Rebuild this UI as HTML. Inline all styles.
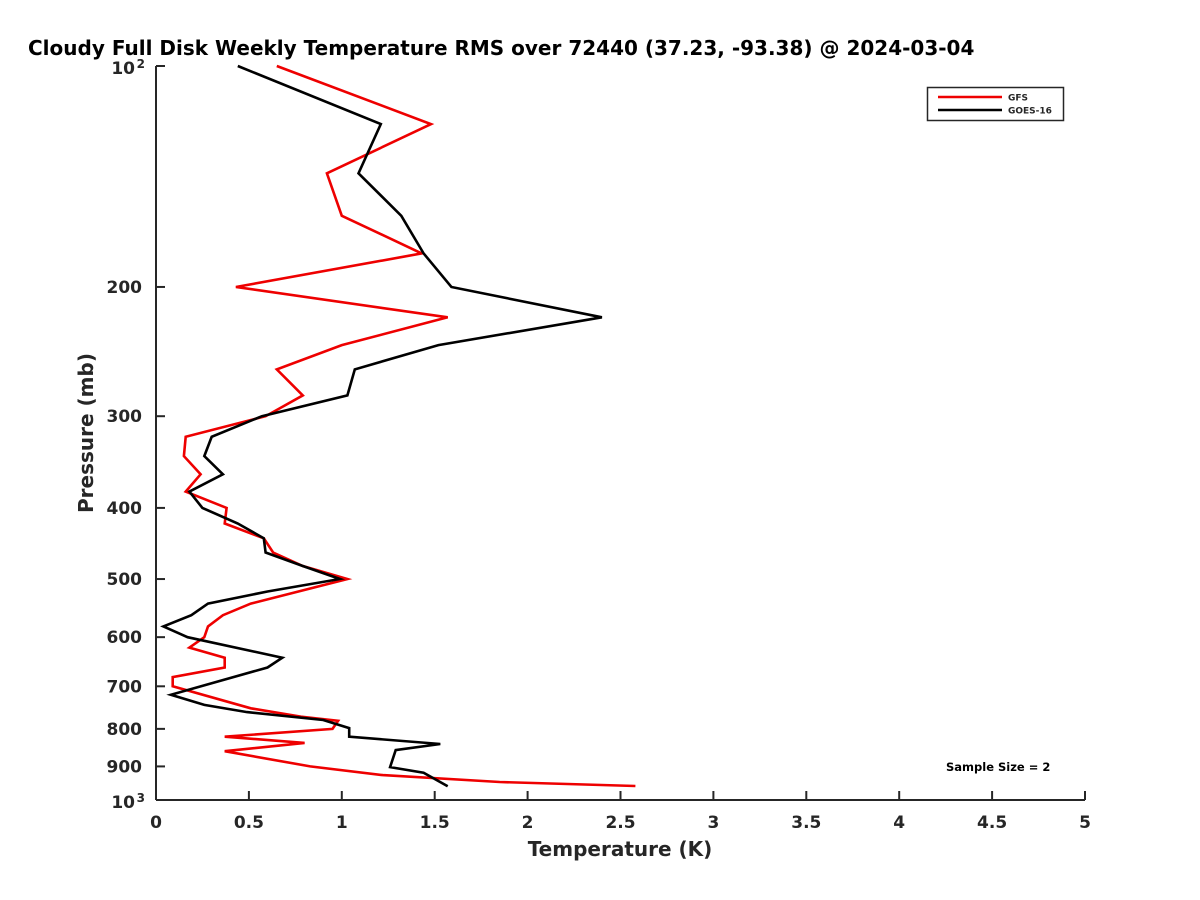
<!DOCTYPE html>
<html><head><meta charset="utf-8"><style>
html,body{margin:0;padding:0;background:#fff;width:1200px;height:900px;overflow:hidden}
text{font-family:"DejaVu Sans","Liberation Sans",sans-serif;font-weight:bold;fill:#262626}
</style></head><body>
<svg id="chart" width="1200" height="900" xmlns="http://www.w3.org/2000/svg">
<text x="28" y="55" font-size="20" style="fill:#000">Cloudy Full Disk Weekly Temperature RMS over 72440 (37.23, -93.38) @ 2024-03-04</text>
<g id="axes"></g>
<g id="series"></g>
<text transform="translate(93,433) rotate(-90)" text-anchor="middle" font-size="20">Pressure (mb)</text>
<text x="620" y="856" text-anchor="middle" font-size="20">Temperature (K)</text>
<g>
<rect x="927.5" y="87.5" width="136" height="33" fill="#fff" stroke="#262626" stroke-width="1.5"/>
<g><line x1="938" y1="97" x2="1002" y2="97" stroke="#e00" stroke-width="2.5"/><text x="1008" y="100.5" font-size="9">GFS</text></g>
<g><line x1="938" y1="110" x2="1002" y2="110" stroke="#000" stroke-width="2.5"/><text x="1008" y="113.5" font-size="9">GOES-16</text></g>
</g>
<text x="946" y="771" font-size="11.5" style="fill:#000">Sample Size = 2</text>
</svg>
<script>
const xTicks=[0,0.5,1,1.5,2,2.5,3,3.5,4,4.5,5];
const xTickLabels=["0","0.5","1","1.5","2","2.5","3","3.5","4","4.5","5"];
const yTicks=[100,200,300,400,500,600,700,800,900,1000];
const yTickLabels=["10^2","200","300","400","500","600","700","800","900","10^3"];
const gfsPressure=[100,120,140,160,180,200,220,240,259,281,300,320,340,360,380,400,420,440,460,480,500,540,560,580,600,620,640,660,680,700,750,770,780,800,820,836,858,900,925,945,957];
const gfsTemp=[0.65,1.48,0.92,1.0,1.43,0.43,1.57,1.0,0.65,0.79,0.59,0.16,0.15,0.24,0.16,0.38,0.37,0.58,0.63,0.79,1.03,0.51,0.36,0.28,0.26,0.18,0.37,0.37,0.09,0.09,0.51,0.78,0.98,0.95,0.37,0.8,0.37,0.83,1.22,1.85,2.58];
const goesPressure=[100,120,140,160,180,200,220,240,259,281,300,320,340,360,380,400,420,440,460,480,500,520,540,560,580,600,640,660,719,742,759,778,798,820,839,855,902,918,958];
const goesTemp=[0.44,1.21,1.09,1.32,1.44,1.59,2.40,1.52,1.07,1.03,0.57,0.30,0.26,0.36,0.18,0.25,0.44,0.58,0.59,0.79,0.99,0.60,0.28,0.19,0.04,0.17,0.68,0.60,0.08,0.26,0.49,0.90,1.04,1.04,1.53,1.29,1.26,1.44,1.57];
const X0=156,X1=1085,Y0=66,Y1=800;
const xs=t=>X0+(t-0)/(5-0)*(X1-X0);
const ys=p=>Y0+Math.log10(p/100)*(Y1-Y0);
const NS="http://www.w3.org/2000/svg";
const axes=document.getElementById('axes');
const series=document.getElementById('series');
function mk(tag,attrs,parent){const e=document.createElementNS(NS,tag);for(const k in attrs)e.setAttribute(k,attrs[k]);parent.appendChild(e);return e;}
const yl=mk('line',{x1:X0,y1:Y0,x2:X0,y2:Y1,stroke:'#262626','stroke-width':2},axes);


const xl=mk('line',{x1:X0,y1:Y1,x2:X1,y2:Y1,stroke:'#262626','stroke-width':2},axes);


xTicks.forEach((t,i)=>{
  const tk=mk('line',{x1:xs(t),y1:Y1,x2:xs(t),y2:Y1-9,stroke:'#262626','stroke-width':2},axes);
  
  
  const tx=mk('text',{x:xs(t),y:Y1+28,'text-anchor':'middle','font-size':17},axes);
  
  
  tx.textContent=xTickLabels[i];
});
yTicks.forEach((p,i)=>{
  const tk=mk('line',{x1:X0,y1:ys(p),x2:X0+9,y2:ys(p),stroke:'#262626','stroke-width':2},axes);
  
  
  const lab=yTickLabels[i];
  const tx=mk('text',{x:X0-14,y:ys(p)+6,'text-anchor':'end','font-size':17},axes);
  
  
  if(lab.indexOf('^')>=0){
    const parts=lab.split('^');
    tx.setAttribute('x',X0-21);
    tx.setAttribute('y',ys(p)+8);
    tx.textContent=parts[0];
    const sup=mk('text',{x:X0-11,y:ys(p)+2,'text-anchor':'end','font-size':12},axes);
    
    
    sup.textContent=parts[1];
  } else tx.textContent=lab;
});
function line(P,T,color,name){
  const d=P.map((p,i)=>(i?'L':'M')+xs(T[i]).toFixed(1)+','+ys(p).toFixed(1)).join('');
  const el=mk('path',{d:d,fill:'none',stroke:color,'stroke-width':2.6,'stroke-linejoin':'miter'},series);
  
  
}
line(gfsPressure,gfsTemp,'#e00','gfs-line');
line(goesPressure,goesTemp,'#000','goes16-line');
</script>
</body></html>
